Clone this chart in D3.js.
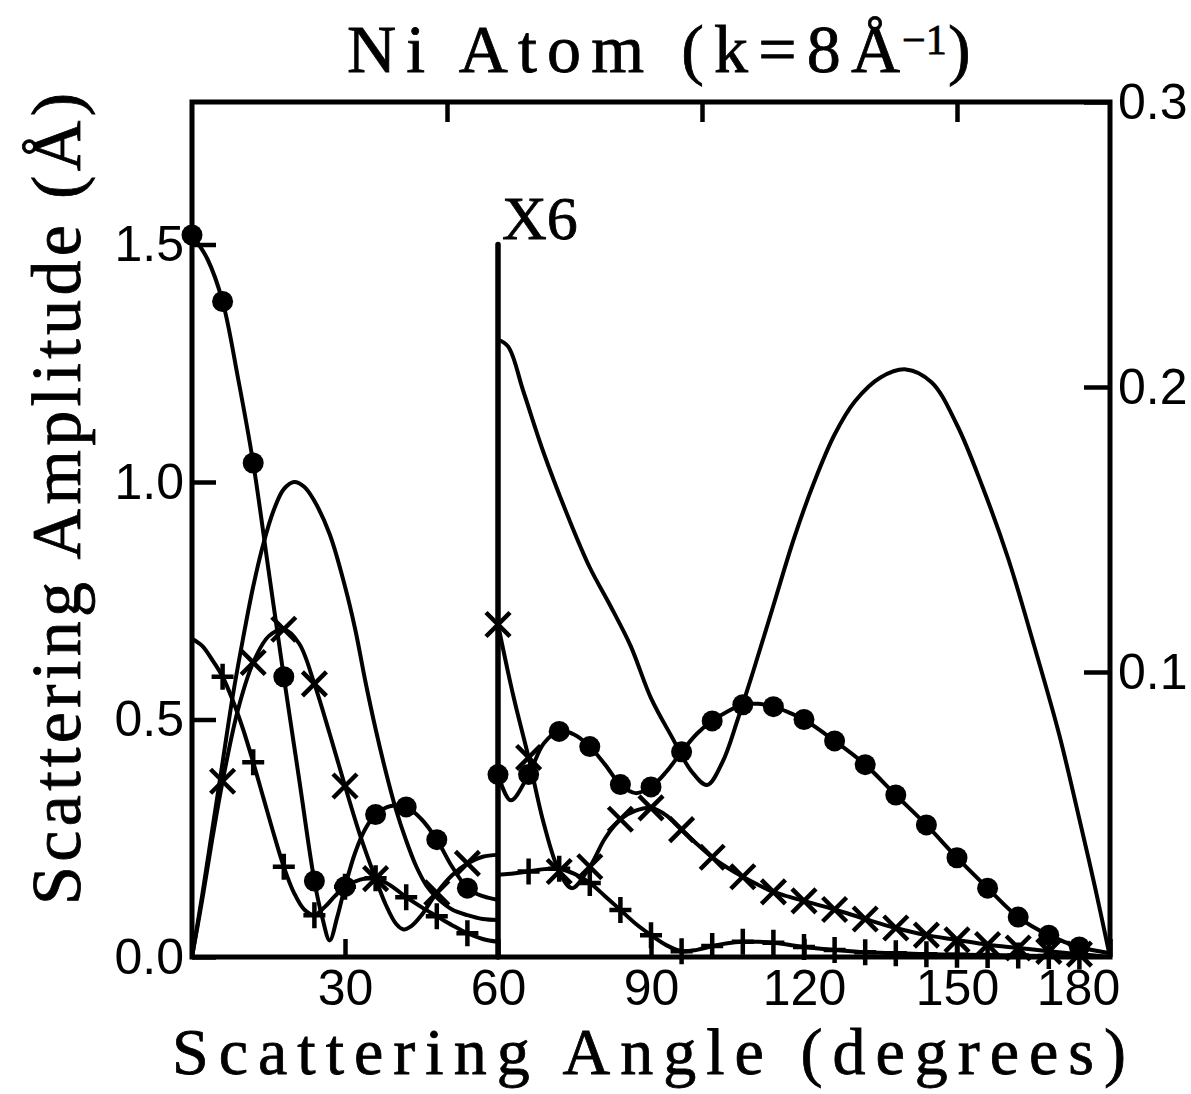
<!DOCTYPE html>
<html lang="en">
<head>
<meta charset="utf-8">
<title>Ni Atom scattering amplitude</title>
<script src="https://d3js.org/d3.v7.min.js"></script>
<style>
    body { margin: 0; background: #fff; }
    .curve { fill: none; stroke: #000; stroke-width: 4px; stroke-linejoin: round; }
    .frame { fill: none; stroke: #000; stroke-width: 5px; }
    .serif { font-family: "Liberation Serif", "Times New Roman", serif; fill: #000; stroke: #000; stroke-width: 0.8px; }
    .tick text { font-family: "Liberation Sans", Arial, sans-serif; font-size: 50px; fill: #000; }
    .tick line { stroke: #000; stroke-width: 4.5px; }
</style>
</head>
<body>
<svg id="chart" width="1191" height="1094"></svg>
<script>
    // left panel (0-60 deg), amplitude in Angstrom
    const plainLeft = [[0,0],[2,0.13],[4,0.27],[6,0.41],[8,0.55],[10,0.67],[12,0.78],[14,0.87],[16,0.94],[18,0.985],[20,1.0],[22,0.99],[24,0.96],[27,0.89],[30,0.78],[32,0.69],[34,0.58],[36,0.48],[38,0.39],[40,0.31],[42,0.245],[44,0.19],[46,0.15],[48,0.125],[51,0.1],[54,0.088],[57,0.08],[60,0.078]];
    const dotLeft = [[0,1.52],[3,1.47],[6,1.38],[9,1.22],[12,1.04],[15,0.815],[18,0.59],[21,0.375],[24,0.16],[25.5,0.085],[27,0.035],[28.5,0.085],[30,0.148],[32,0.22],[34,0.27],[36,0.30],[39,0.318],[42,0.316],[45,0.29],[48,0.247],[51,0.19],[54,0.145],[56,0.132],[58,0.125],[60,0.12]];
    const crossLeft = [[0,0],[2,0.12],[4,0.25],[6,0.37],[9,0.52],[12,0.62],[15,0.675],[18,0.69],[21,0.66],[24,0.575],[27,0.47],[30,0.36],[33,0.255],[36,0.165],[38,0.11],[40,0.07],[41.5,0.058],[43,0.065],[45,0.088],[48,0.135],[51,0.172],[54,0.197],[57,0.211],[60,0.215]];
    const plusLeft = [[0,0.67],[2,0.655],[4,0.625],[6,0.59],[8,0.54],[10,0.48],[12,0.41],[14,0.335],[16,0.26],[18,0.19],[20,0.135],[22,0.1],[24,0.088],[26,0.105],[28,0.128],[30,0.148],[33,0.163],[36,0.166],[39,0.15],[42,0.126],[45,0.105],[48,0.086],[51,0.067],[54,0.05],[57,0.038],[60,0.032]];

    // right panel (60-180 deg), values shown X6
    const plainRight = [[60,1.30],[62,1.285],[65,1.19],[69,1.06],[74,0.92],[78,0.82],[82,0.74],[86,0.655],[90,0.545],[94,0.465],[98,0.39],[101,0.362],[104,0.41],[107,0.5],[110,0.6],[114,0.74],[118,0.88],[122,1.0],[126,1.1],[130,1.17],[135,1.22],[140,1.237],[145,1.21],[150,1.12],[155,0.99],[160,0.84],[165,0.66],[170,0.47],[174,0.29],[177,0.15],[180,0]];
    const dotRight = [[60,0.384],[62.5,0.33],[66,0.384],[69,0.45],[72,0.475],[75,0.468],[78,0.443],[81,0.405],[84,0.363],[87,0.345],[90,0.358],[93,0.39],[96,0.432],[99,0.47],[102,0.497],[105,0.517],[108,0.531],[111,0.533],[114,0.527],[117,0.515],[120,0.5],[126,0.455],[132,0.405],[138,0.341],[144,0.278],[150,0.209],[156,0.145],[162,0.084],[168,0.046],[174,0.021],[180,0.008]];
    const crossRight = [[60,0.70],[63,0.55],[66,0.42],[69,0.28],[72,0.18],[74.5,0.145],[78,0.19],[81,0.25],[84,0.29],[87,0.308],[90,0.314],[93,0.298],[96,0.268],[99,0.238],[102,0.21],[105,0.188],[108,0.169],[111,0.152],[114,0.137],[117,0.127],[120,0.118],[126,0.10],[132,0.08],[138,0.061],[144,0.046],[150,0.036],[156,0.026],[162,0.019],[168,0.012],[174,0.006],[180,0]];
    const plusRight = [[60,0.173],[63,0.176],[66,0.18],[69,0.185],[72,0.186],[75,0.175],[78,0.156],[81,0.128],[84,0.099],[87,0.07],[90,0.046],[93,0.025],[96,0.012],[99,0.015],[102,0.023],[105,0.029],[108,0.032],[111,0.032],[114,0.03],[117,0.026],[120,0.021],[126,0.015],[132,0.01],[138,0.008],[144,0.006],[150,0.005],[156,0.004],[162,0.003],[168,0.002],[174,0.001],[180,0]];

    const angleTicks = [30, 60, 90, 120, 150, 180];
    const topTicks = [50, 100, 150];
    const leftTicks = [0, 0.5, 1.0, 1.5];
    const rightTicks = [0.1, 0.2, 0.3];
    const markStep = 6;

    const svg = d3.select("#chart");

    const x = d3.scaleLinear().domain([0, 180]).range([192, 1110]);
    const y = d3.scaleLinear().domain([0, 1.8]).range([957, 102]);
    const yRight = d3.scaleLinear().domain([0, 0.3]).range([957, 102]);

    const line = d3.line()
        .x(d => x(d[0]))
        .y(d => y(d[1]))
        .curve(d3.curveCatmullRom.alpha(0.5));

    const series = [
        { data: plainLeft, mark: null },
        { data: dotLeft, mark: "dot", from: 0, to: 54 },
        { data: crossLeft, mark: "cross", from: 6, to: 54 },
        { data: plusLeft, mark: "plus", from: 6, to: 54 },
        { data: plainRight, mark: null },
        { data: dotRight, mark: "dot", from: 60, to: 174 },
        { data: crossRight, mark: "cross", from: 60, to: 174 },
        { data: plusRight, mark: "plus", from: 66, to: 174 }
    ];

    // axes
    svg.append("g")
        .attr("transform", `translate(0,${y(0)})`)
        .call(d3.axisBottom(x).tickValues(angleTicks).tickSizeInner(-18).tickSizeOuter(0).tickPadding(12))
        .call(g => g.select(".domain").remove())
        .call(g => g.selectAll(".tick text").filter(d => d === 180).attr("dx", -32));

    svg.append("g")
        .attr("transform", `translate(0,${y(1.8)})`)
        .call(d3.axisTop(x).tickValues(topTicks).tickSizeInner(-20).tickSizeOuter(0).tickFormat(""))
        .call(g => g.select(".domain").remove());

    svg.append("g")
        .attr("transform", `translate(${x(0)},0)`)
        .call(d3.axisLeft(y).tickValues(leftTicks).tickFormat(d3.format(".1f")).tickSizeInner(-24).tickSizeOuter(0).tickPadding(8))
        .call(g => g.select(".domain").remove());

    svg.append("g")
        .attr("transform", `translate(${x(180)},0)`)
        .call(d3.axisRight(yRight).tickValues(rightTicks).tickFormat(d3.format(".1f")).tickSizeInner(-26).tickSizeOuter(0).tickPadding(8))
        .call(g => g.select(".domain").remove());

    svg.append("rect")
        .attr("class", "frame")
        .attr("x", x(0))
        .attr("y", y(1.8))
        .attr("width", x(180) - x(0))
        .attr("height", y(0) - y(1.8));

    // X6 divider
    svg.append("line")
        .attr("x1", x(60)).attr("x2", x(60))
        .attr("y1", y(1.5)).attr("y2", y(0))
        .attr("stroke", "#000").attr("stroke-width", 5.5).attr("stroke-linecap", "round");

    svg.append("text")
        .attr("class", "serif")
        .attr("x", x(60) + 4)
        .attr("y", y(1.5) - 6)
        .attr("font-size", 62)
        .text("X6");

    // curves
    svg.selectAll("path.curve")
        .data(series)
        .join("path")
        .attr("class", "curve")
        .attr("d", d => line(d.data));

    const markGroup = svg.append("g");
    series.filter(s => s.mark).forEach(s => {
        const pts = s.data.filter(d => d[0] % markStep === 0 && d[0] >= s.from && d[0] <= s.to);
        if (s.mark === "dot") {
            markGroup.selectAll(null).data(pts).join("circle")
                .attr("cx", d => x(d[0])).attr("cy", d => y(d[1]))
                .attr("r", 10.5).attr("fill", "#000");
        } else {
            const shape = s.mark === "cross"
                ? "M-12,-12L12,12M-12,12L12,-12"
                : "M-11,0L11,0M0,-13L0,13";
            markGroup.selectAll(null).data(pts).join("path")
                .attr("transform", d => `translate(${x(d[0])},${y(d[1])})`)
                .attr("d", shape)
                .attr("stroke", "#000").attr("stroke-width", 4.5).attr("fill", "none");
        }
    });

    // titles
    svg.append("text").attr("class", "serif")
        .attr("x", 347).attr("y", 72).attr("font-size", 68)
        .attr("textLength", 553).attr("lengthAdjust", "spacing")
        .text("Ni Atom (k=8Å");
    svg.append("text").attr("class", "serif")
        .attr("x", 902).attr("y", 54).attr("font-size", 42)
        .text("−1");
    svg.append("text").attr("class", "serif")
        .attr("x", 948).attr("y", 72).attr("font-size", 68)
        .text(")");

    svg.append("text").attr("class", "serif")
        .attr("x", 172).attr("y", 1074).attr("font-size", 66)
        .attr("textLength", 954).attr("lengthAdjust", "spacing")
        .text("Scattering Angle (degrees)");

    svg.append("text").attr("class", "serif")
        .attr("transform", "translate(80,905) rotate(-90)")
        .attr("font-size", 70)
        .attr("textLength", 812).attr("lengthAdjust", "spacing")
        .text("Scattering Amplitude (Å)");
</script>
</body>
</html>
